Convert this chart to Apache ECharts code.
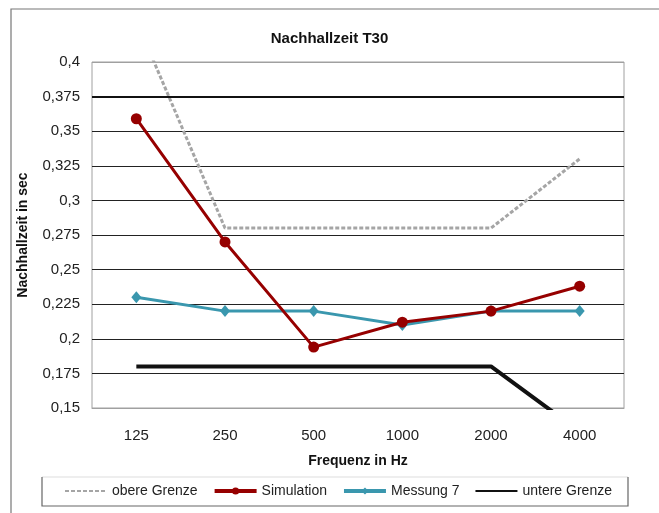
<!DOCTYPE html>
<html>
<head>
<meta charset="utf-8">
<script src="https://cdn.jsdelivr.net/npm/echarts@6/dist/echarts.min.js"></script>
<style>
html,body{margin:0;padding:0;background:#fff;}
#chart{width:659px;height:513px;}
</style>
</head>
<body>
<div id="chart"></div>
<script>
// Data
const categories = ['125', '250', '500', '1000', '2000', '4000'];
const obereGrenze = [0.43, 0.28, 0.28, 0.28, 0.28, 0.33];
const simulation = [0.359, 0.27, 0.194, 0.212, 0.22, 0.238];
const messung7 = [0.23, 0.22, 0.22, 0.21, 0.22, 0.22];
const untereGrenze = [0.18, 0.18, 0.18, 0.18, 0.18, 0.133];
const yMin = 0.15, yMax = 0.4, yStep = 0.025;
const seriesNames = ['obere Grenze', 'Simulation', 'Messung 7', 'untere Grenze'];

const font = 'Liberation Sans, Arial, sans-serif';
const chart = echarts.init(document.getElementById('chart'), null, {renderer: 'canvas'});

const nLines = Math.round((yMax - yMin) / yStep);
const splitColors = [];
for (let i = 0; i <= nLines; i++) {
  splitColors.push(i === 0 || i === nLines ? '#a0a0a0' : '#222');
}

chart.setOption({
  backgroundColor: '#fff',
  animation: false,
  title: {
    text: 'Nachhallzeit T30',
    left: 'center',
    top: 26,
    textStyle: {fontFamily: font, fontSize: 15, fontWeight: 'bold', color: '#111'}
  },
  graphic: [
    {type: 'rect', shape: {x: 11, y: 9, width: 700, height: 600}, style: {fill: 'none', stroke: '#777', lineWidth: 1.2}, silent: true, z: -10},
    {type: 'line', shape: {x1: 42, y1: 477, x2: 628, y2: 477}, style: {stroke: '#ddd', lineWidth: 1}, silent: true},
    {type: 'polyline', shape: {points: [[42, 477], [42, 506], [628, 506], [628, 477]]}, style: {stroke: '#666', lineWidth: 1.2, fill: 'none'}, silent: true}
  ],
  legend: {
    left: 64,
    top: 484,
    padding: 0,
    itemGap: 15,
    itemWidth: 42,
    itemHeight: 9,
    data: [
      {name: seriesNames[0], itemStyle: {opacity: 0}},
      {name: seriesNames[1], lineStyle: {width: 4}},
      {name: seriesNames[2], lineStyle: {width: 4}},
      {name: seriesNames[3], itemStyle: {opacity: 0}}
    ],
    textStyle: {fontFamily: font, fontSize: 14, color: '#222'}
  },
  grid: {
    left: 92, top: 62, width: 532, height: 346,
    show: true, borderColor: '#a0a0a0', borderWidth: 1, backgroundColor: '#fff'
  },
  xAxis: {
    type: 'category',
    data: categories,
    boundaryGap: true,
    axisLine: {show: true, lineStyle: {color: '#a0a0a0'}},
    axisTick: {show: false},
    axisLabel: {margin: 20, fontFamily: font, fontSize: 15, color: '#222'},
    name: 'Frequenz in Hz',
    nameLocation: 'middle',
    nameGap: 46,
    nameTextStyle: {fontFamily: font, fontSize: 14, fontWeight: 'bold', color: '#111'}
  },
  yAxis: {
    type: 'value',
    min: yMin, max: yMax, interval: yStep,
    axisLine: {show: false},
    axisTick: {show: false},
    splitLine: {show: true, lineStyle: {color: splitColors, width: 1}},
    axisLabel: {
      margin: 12, fontFamily: font, fontSize: 15, color: '#222',
      formatter: v => String(+v.toFixed(3)).replace('.', ',')
    },
    name: 'Nachhallzeit in sec',
    nameLocation: 'middle',
    nameGap: 62,
    nameTextStyle: {fontFamily: font, fontSize: 14, fontWeight: 'bold', color: '#111'}
  },
  series: [
    {
      name: seriesNames[0], type: 'line', data: obereGrenze, symbol: 'none',
      lineStyle: {color: '#a5a5a5', width: 3, type: [4, 2]},
      itemStyle: {color: '#a5a5a5'}, z: 2,
      markLine: {silent: true, symbol: 'none', precision: 4, label: {show: false},
        lineStyle: {color: '#111', width: 2, type: 'solid'}, data: [{yAxis: 0.375}]}
    },
    {
      name: seriesNames[1], type: 'line', data: simulation, symbol: 'circle', symbolSize: 11,
      lineStyle: {color: '#960000', width: 3}, itemStyle: {color: '#960000'}, z: 4
    },
    {
      name: seriesNames[2], type: 'line', data: messung7, symbol: 'diamond', symbolSize: [10, 12],
      lineStyle: {color: '#3a97ae', width: 3}, itemStyle: {color: '#3a97ae'}, z: 3
    },
    {
      name: seriesNames[3], type: 'line', data: untereGrenze, symbol: 'none',
      lineStyle: {color: '#111', width: 4}, itemStyle: {color: '#111'}, z: 2
    }
  ]
});
</script>
</body>
</html>
